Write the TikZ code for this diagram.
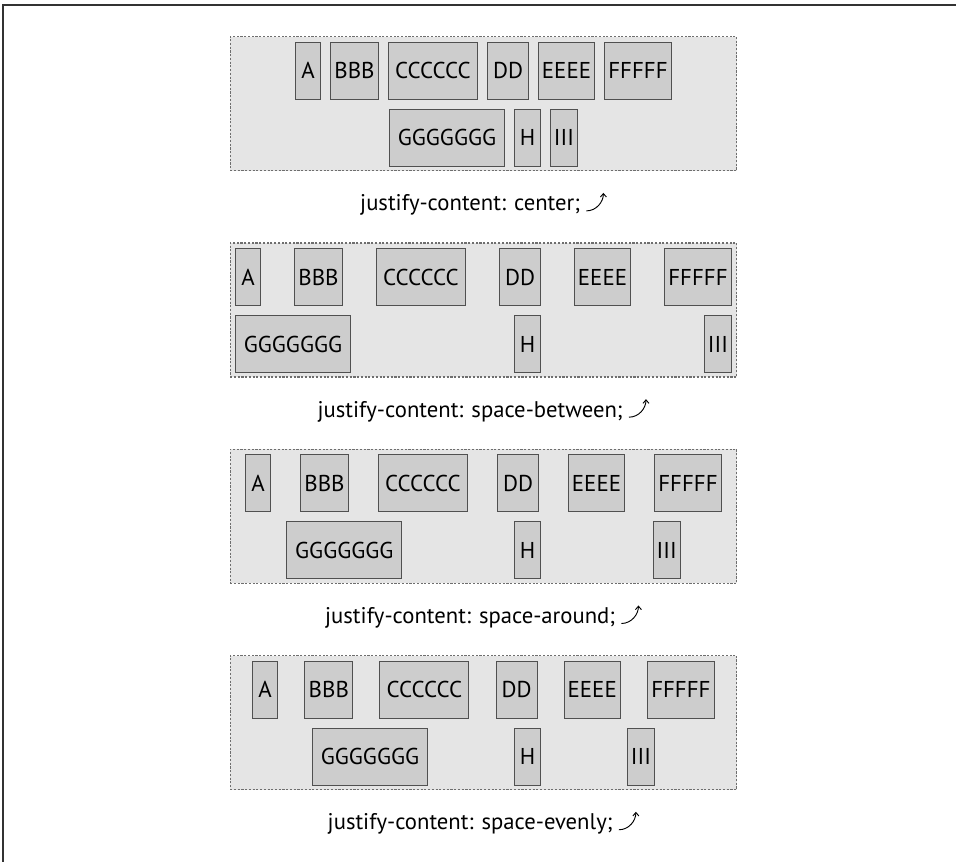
\documentclass[tikz,border=0pt]{standalone}
\usepackage{fontspec}
\setmainfont{PT Sans}
\usepackage{tikz}
\usetikzlibrary{arrows.meta,calc,positioning}
\definecolor{boxbg}{HTML}{E5E5E5}
\definecolor{itemfill}{HTML}{CDCDCD}
\definecolor{itemline}{HTML}{505050}
\definecolor{dashline}{HTML}{6E6E6E}
\definecolor{frameline}{HTML}{333333}

\begin{document}
\begin{tikzpicture}[x=0.75pt,y=-0.75pt,
  flexbox/.style={draw=dashline,fill=boxbg,line width=0.8pt,dash pattern=on 1.6pt off 1.2pt,
    minimum width=380pt,minimum height=100.5pt,inner sep=0pt},
  item/.style={draw=itemline,fill=itemfill,line width=0.8pt,minimum height=42.75pt,inner sep=0pt,
    font=\fontsize{17.2}{20}\selectfont},
  caption/.style={inner sep=0pt,font=\fontsize{17}{20}\selectfont},
  curly/.style={-{Straight Barb[length=2.6pt,width=4.5pt]},line width=0.7pt}]
  \useasboundingbox (0,0) rectangle (956,862);
  \draw[frameline,line width=1.5pt] (956,5) -- (3,5) -- (3,862);

  % justify-content: center
  \node[flexbox] (center) at (483.5,103.7) {};
  \foreach \t/\x/\w in {A/308/25,BBB/354.5/48,CCCCCC/433/89,DD/508/41,EEEE/566.5/56,FFFFF/638/67}
    \node[item,minimum width=\w*0.75pt] (center-\t) at (\x,70.7) {\t};
  \foreach \t/\x/\w in {GGGGGGG/447/115,H/527.5/26,III/564/27}
    \node[item,minimum width=\w*0.75pt] (center-\t) at (\x,137.7) {\t};
  \node[caption,below=17.5pt of center,xshift=-10pt] (center-lbl) {justify-content: center;};
  \draw[curly] (center-lbl.base east) ++(6,0) .. controls +(10,0) and +(0,9) .. ++(17,-18);

  % justify-content: space-between
  \node[flexbox] (between) at (483.5,310) {};
  \foreach \t/\x/\w in {A/248/25,BBB/318.5/48,CCCCCC/421/89,DD/520/41,EEEE/602.5/56,FFFFF/698/67}
    \node[item,minimum width=\w*0.75pt] (between-\t) at (\x,277) {\t};
  \foreach \t/\x/\w in {GGGGGGG/293/115,H/527.5/26,III/718/27}
    \node[item,minimum width=\w*0.75pt] (between-\t) at (\x,344) {\t};
  \node[caption,below=17.5pt of between,xshift=-10pt] (between-lbl) {justify-content: space-between;};
  \draw[curly] (between-lbl.base east) ++(6,0) .. controls +(10,0) and +(0,9) .. ++(17,-18);

  % justify-content: space-around
  \node[flexbox] (around) at (483.5,516.3) {};
  \foreach \t/\x/\w in {A/258/25,BBB/324.5/48,CCCCCC/423/89,DD/518/41,EEEE/596.5/56,FFFFF/688/67}
    \node[item,minimum width=\w*0.75pt] (around-\t) at (\x,483.3) {\t};
  \foreach \t/\x/\w in {GGGGGGG/344.3/115,H/527.5/26,III/666.7/27}
    \node[item,minimum width=\w*0.75pt] (around-\t) at (\x,550.3) {\t};
  \node[caption,below=17.5pt of around,xshift=-10pt] (around-lbl) {justify-content: space-around;};
  \draw[curly] (around-lbl.base east) ++(6,0) .. controls +(10,0) and +(0,9) .. ++(17,-18);

  % justify-content: space-evenly
  \node[flexbox] (evenly) at (483.5,722.6) {};
  \foreach \t/\x/\w in {A/265.1/25,BBB/328.8/48,CCCCCC/424.4/89,DD/516.6/41,EEEE/592.2/56,FFFFF/680.9/67}
    \node[item,minimum width=\w*0.75pt] (evenly-\t) at (\x,689.6) {\t};
  \foreach \t/\x/\w in {GGGGGGG/370/115,H/527.5/26,III/641/27}
    \node[item,minimum width=\w*0.75pt] (evenly-\t) at (\x,756.6) {\t};
  \node[caption,below=17.5pt of evenly,xshift=-10pt] (evenly-lbl) {justify-content: space-evenly;};
  \draw[curly] (evenly-lbl.base east) ++(6,0) .. controls +(10,0) and +(0,9) .. ++(17,-18);
\end{tikzpicture}
\end{document}
